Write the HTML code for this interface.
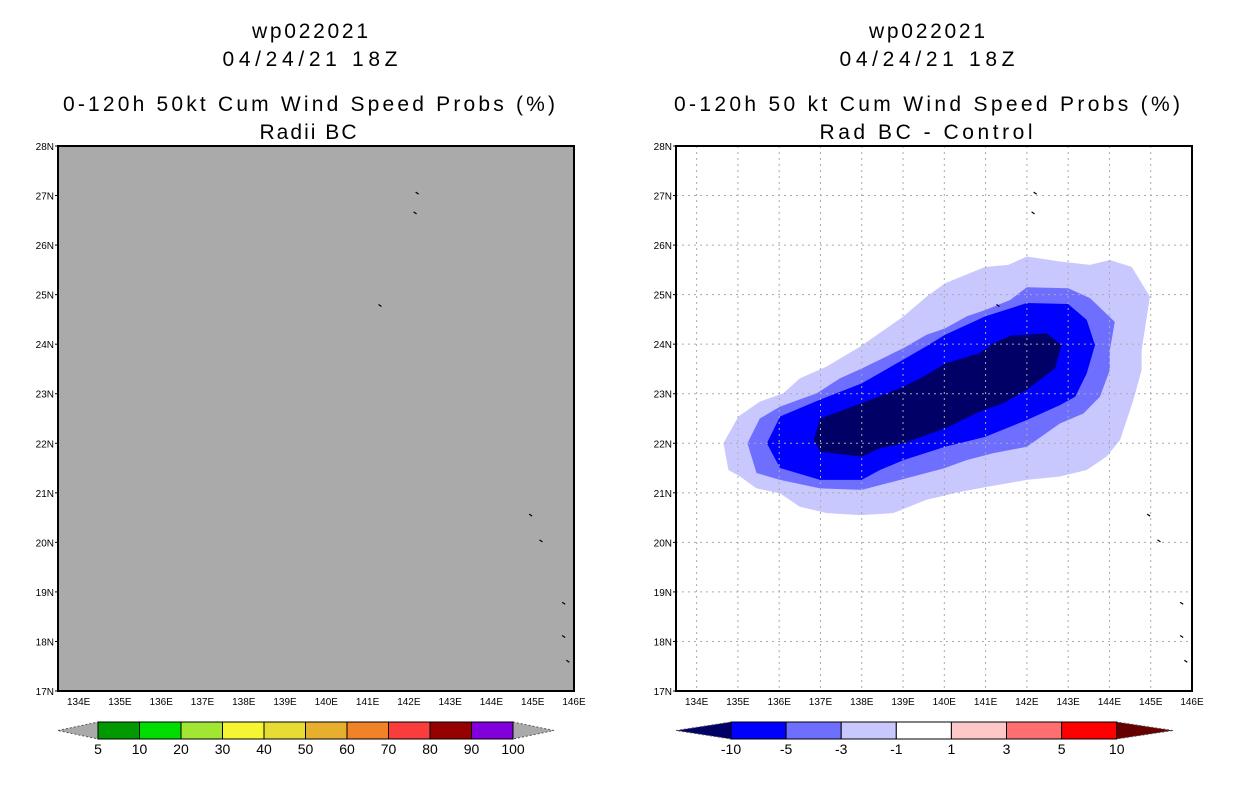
<!DOCTYPE html>
<html><head><meta charset="utf-8"><style>
body{margin:0;background:#fff;width:1236px;height:800px;overflow:hidden}
svg{display:block;font-family:"Liberation Sans",sans-serif}
</style></head><body>
<svg id="s" width="1236" height="800">
<g fill="#000" font-size="21" text-anchor="middle" lengthAdjust="spacing">
<text x="310" y="38" textLength="116" lengthAdjust="spacing">wp022021</text>
<text x="310" y="66" textLength="175" lengthAdjust="spacing">04/24/21 18Z</text>
<text x="309" y="111" textLength="492" lengthAdjust="spacing">0-120h 50kt Cum Wind Speed Probs (%)</text>
<text x="308" y="139" textLength="97" lengthAdjust="spacing">Radii BC</text>
<text x="927" y="38" textLength="116" lengthAdjust="spacing">wp022021</text>
<text x="927" y="66" textLength="175" lengthAdjust="spacing">04/24/21 18Z</text>
<text x="927" y="111" textLength="506" lengthAdjust="spacing">0-120h 50 kt Cum Wind Speed Probs (%)</text>
<text x="926" y="139" textLength="213" lengthAdjust="spacing">Rad BC - Control</text>
</g>
<g id="left"></g>
<g id="right"></g>
<g id="cb"></g>
</svg>
<script>
const lonTicks=[134,135,136,137,138,139,140,141,142,143,144,145,146];
const latTicks=[17,18,19,20,21,22,23,24,25,26,27,28];
const leftLevels=["5","10","20","30","40","50","60","70","80","90","100"];
const leftColors=["#009900","#00dd00","#a0e632","#f5f532","#e6dc32","#e6af2d","#f08228","#fa3c3c","#960000","#8200dc"];
const rightLevels=["-10","-5","-3","-1","1","3","5","10"];
const rightColors=["#0000ff","#6f6fff","#c8c8ff","#ffffff","#ffc8c8","#ff6f6f","#ff0000"];
const c3=[[134.65,22.0],[135.01,22.54],[135.53,22.84],[136.1,23.01],[136.5,23.31],[137.15,23.55],[137.96,23.95],[139.01,24.56],[139.57,24.96],[140.02,25.23],[140.99,25.56],[141.55,25.6],[142.0,25.77],[142.8,25.67],[143.53,25.6],[144.01,25.7],[144.54,25.56],[144.98,24.96],[144.78,23.88],[144.78,23.48],[144.58,22.87],[144.26,22.07],[143.93,21.73],[143.45,21.46],[142.8,21.33],[142.0,21.26],[141.03,21.12],[140.38,21.02],[139.57,20.86],[138.76,20.59],[137.96,20.55],[137.15,20.59],[136.5,20.72],[136.02,20.99],[135.45,21.09],[135.05,21.33],[134.77,21.46]];
const c2=[[135.23,22.0],[135.53,22.5],[136.02,22.74],[136.91,23.01],[137.47,23.31],[138.0,23.51],[139.01,23.92],[139.57,24.19],[140.02,24.32],[140.54,24.56],[140.99,24.69],[141.59,24.89],[142.0,25.15],[143.0,25.13],[143.53,24.93],[144.13,24.45],[144.01,23.88],[144.01,23.48],[143.77,22.94],[143.37,22.6],[142.8,22.4],[142.0,21.93],[141.19,21.8],[140.54,21.66],[139.98,21.49],[138.93,21.26],[138.0,21.06],[136.99,21.09],[136.02,21.26],[135.45,21.4]];
const c1=[[135.7,22.0],[136.02,22.54],[136.99,22.88],[138.0,23.21],[139.01,23.69],[139.57,23.96],[140.02,24.19],[140.99,24.56],[142.0,24.83],[143.0,24.81],[143.45,24.49],[143.65,23.98],[143.45,23.41],[143.17,22.94],[142.8,22.77],[142.0,22.47],[140.99,22.13],[140.02,21.93],[139.01,21.66],[138.44,21.46],[138.0,21.26],[136.99,21.26],[136.02,21.5]];
const c0=[[136.84,22.07],[136.99,22.5],[138.0,22.81],[139.01,23.14],[139.57,23.38],[140.02,23.61],[140.86,23.82],[141.19,24.02],[141.59,24.17],[142.48,24.22],[142.84,23.98],[142.68,23.51],[142.0,23.08],[141.43,22.81],[140.86,22.64],[140.02,22.3],[139.01,22.0],[138.44,21.9],[138.0,21.73],[136.99,21.83]];
const NS="http://www.w3.org/2000/svg";
function mk(p,t,a){const e=document.createElementNS(NS,t);for(const k in a)e.setAttribute(k,a[k]);p.appendChild(e);return e;}
function panel(g,x0,gray,grid){
  const X=lon=>x0+(lon-133.5)*516/12.5, Y=lat=>146+(28-lat)*545/11;
  const bg=mk(g,'rect',{x:x0,y:146,width:516,height:545,fill:gray?'#aaaaaa':'#fff'});
  
  
  if(!gray){
    const fills=[[c3,'#c8c8ff','contour-minus1'],[c2,'#6f6fff','contour-minus3'],[c1,'#0000ff','contour-minus5'],[c0,'#000066','contour-minus10']];
    fills.forEach(f=>{const p=mk(g,'polygon',{points:f[0].map(q=>X(q[0])+','+Y(q[1])).join(' '),fill:f[1]});
      
      });
  }
  if(grid){
    lonTicks.slice(0,12).forEach(l=>{const e=mk(g,'line',{x1:X(l),x2:X(l),y1:146,y2:691,stroke:'#aaa','stroke-dasharray':'2,4'});
      
      });
    latTicks.slice(1,11).forEach(l=>{const e=mk(g,'line',{x1:x0,x2:x0+516,y1:Y(l),y2:Y(l),stroke:'#aaa','stroke-dasharray':'2,4'});
      
      });
  }
  [[142.2,27.05],[142.15,26.65],[141.3,24.78],[144.95,20.55],[145.2,20.03],[145.75,18.77],[145.75,18.1],[145.85,17.6]].forEach(q=>{
    const e=mk(g,'line',{x1:X(q[0])-1.5,y1:Y(q[1])-1,x2:X(q[0])+1.5,y2:Y(q[1])+1,stroke:'#000','stroke-width':1.2});
    
    });
  const fr=mk(g,'rect',{x:x0,y:146,width:516,height:545,fill:'none',stroke:'#000','stroke-width':2});
  
  
  lonTicks.forEach(l=>{const t=mk(g,'text',{x:X(l),y:705,'font-size':10,'text-anchor':'middle'});t.textContent=l+'E';
    
    });
  latTicks.forEach(l=>{const t=mk(g,'text',{x:x0-4,y:Y(l)+4,'font-size':10,'text-anchor':'end'});t.textContent=l+'N';
    
    
    mk(g,'line',{x1:x0-3,x2:x0,y1:Y(l),y2:Y(l),stroke:'#000'});});
}
panel(document.getElementById('left'),58,true,false);
panel(document.getElementById('right'),676,false,true);
const cb=document.getElementById('cb');
function bar(x0,w,cols,labels,lc,rc,tl,tr,name){
  const y0=722,h=17;
  const a=mk(cb,'polygon',{points:`${tl},${y0+h/2} ${x0},${y0} ${x0},${y0+h}`,fill:lc,stroke:'#555','stroke-dasharray':'2,2'});
  
  
  const xe=x0+w*cols.length;
  const b=mk(cb,'polygon',{points:`${tr},${y0+h/2} ${xe},${y0} ${xe},${y0+h}`,fill:rc,stroke:'#555','stroke-dasharray':'2,2'});
  
  
  cols.forEach((c,i)=>{const r=mk(cb,'rect',{x:x0+i*w,y:y0,width:w,height:h,fill:c,stroke:'#000'});
    
    });
  labels.forEach((l,i)=>{const t=mk(cb,'text',{x:x0+i*w,y:754,'font-size':14,'text-anchor':'middle'});t.textContent=l;
    
    });
}
bar(98,41.5,leftColors,leftLevels,'#aaaaaa','#aaaaaa',58,554,'left-colorbar');
bar(731,55.1,rightColors,rightLevels,'#000066','#660000',676,1173,'right-colorbar');
</script>
</body></html>
